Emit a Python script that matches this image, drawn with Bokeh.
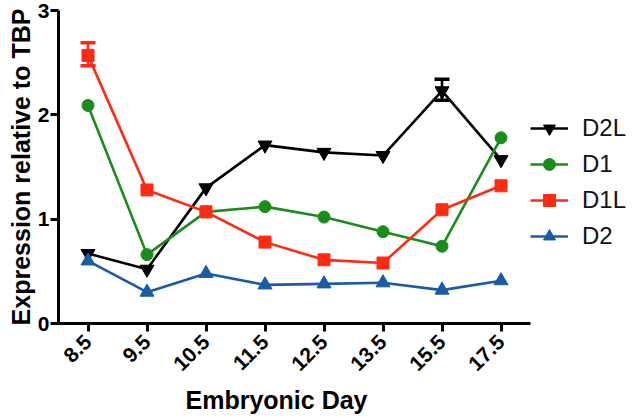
import math
from bokeh.plotting import figure
from bokeh.models import Legend, LegendItem, Whisker, ColumnDataSource, FactorRange, TeeHead, Title
from bokeh.embed import file_html
from bokeh.resources import INLINE

days = ["8.5", "9.5", "10.5", "11.5", "12.5", "13.5", "15.5", "17.5"]
d2l = [0.67, 0.52, 1.30, 1.71, 1.64, 1.61, 2.23, 1.57]
d1 = [2.09, 0.66, 1.07, 1.12, 1.02, 0.88, 0.74, 1.78]
d1l = [2.57, 1.28, 1.07, 0.78, 0.61, 0.58, 1.09, 1.32]
d2 = [0.60, 0.30, 0.48, 0.37, 0.38, 0.39, 0.32, 0.41]

# error bars (day, lower, upper)
err_days = ["8.5", "15.5"]
err_lower = [2.47, 2.14]
err_upper = [2.69, 2.34]
err_colors = ["#FF2A14", "#000000"]

BLACK = "#000000"
GREEN = "#1A8C1A"
RED = "#FF2A14"
BLUE = "#1A5BA3"
FONT = "Liberation Sans"

p = figure(x_range=FactorRange(*days, range_padding=0), y_range=(0, 3),
           frame_width=472, frame_height=313,
           min_border_left=58, min_border_top=10, min_border_right=100, min_border_bottom=0,
           output_backend="svg", toolbar_location=None)
p.outline_line_color = None
p.grid.grid_line_color = None

src_err = ColumnDataSource(dict(x=err_days, lo=err_lower, hi=err_upper, c=err_colors))
wh = Whisker(base="x", lower="lo", upper="hi", source=src_err,
             line_color="c", line_width=2.6,
             upper_head=TeeHead(size=15, line_color="c", line_width=3.5),
             lower_head=TeeHead(size=15, line_color="c", line_width=3.5))
p.add_layout(wh)

lw = 2.6
r_d2l_l = p.line(days, d2l, line_color=BLACK, line_width=lw)
r_d2l_m = p.scatter(days, d2l, marker="inverted_triangle", size=14, color=BLACK)
r_d1_l = p.line(days, d1, line_color=GREEN, line_width=lw)
r_d1_m = p.scatter(days, d1, marker="circle", size=12, color=GREEN)
r_d1l_l = p.line(days, d1l, line_color=RED, line_width=lw)
r_d1l_m = p.scatter(days, d1l, marker="square", size=12, color=RED)
r_d2_l = p.line(days, d2, line_color=BLUE, line_width=lw)
r_d2_m = p.scatter(days, d2, marker="triangle", size=14, color=BLUE)

legend = Legend(items=[
    LegendItem(label="D2L", renderers=[r_d2l_l, r_d2l_m]),
    LegendItem(label="D1", renderers=[r_d1_l, r_d1_m]),
    LegendItem(label="D1L", renderers=[r_d1l_l, r_d1l_m]),
    LegendItem(label="D2", renderers=[r_d2_l, r_d2_m]),
], location=(0, 72), border_line_color=None, background_fill_alpha=0,
    padding=0, margin=0, spacing=6, glyph_width=38, glyph_height=30,
    label_height=30, label_standoff=14,
    label_text_font=FONT, label_text_font_size="24px", label_text_color="#111111")
p.add_layout(legend, "right")

p.yaxis.ticker = [0, 1, 2, 3]
p.yaxis.minor_tick_line_color = None
p.yaxis.axis_label = "Expression relative to TBP"
for ax in (p.xaxis, p.yaxis):
    ax.axis_line_width = 3
    ax.axis_line_color = BLACK
    ax.major_tick_line_width = 3
    ax.major_tick_line_color = BLACK
    ax.major_tick_out = 8
    ax.major_tick_in = 0
    ax.major_label_text_font = FONT
    ax.major_label_text_font_style = "bold"
    ax.major_label_text_color = BLACK
    ax.axis_label_text_font = FONT
    ax.axis_label_text_font_style = "bold"
    ax.axis_label_text_color = BLACK
p.yaxis.major_label_text_font_size = "21px"
p.xaxis.major_label_text_font_size = "21px"
p.yaxis.axis_label_text_font_size = "25px"
p.xaxis.major_label_orientation = math.pi / 4
p.xaxis.major_label_standoff = 7
p.yaxis.major_label_standoff = 1
p.yaxis.axis_label_standoff = 0

xt = Title(text="Embryonic Day", align="left", offset=127,
           text_font=FONT, text_font_style="bold", text_font_size="25px",
           text_color=BLACK, standoff=7)
p.add_layout(xt, "below")

open("out.html", "w").write(file_html(p, INLINE))
